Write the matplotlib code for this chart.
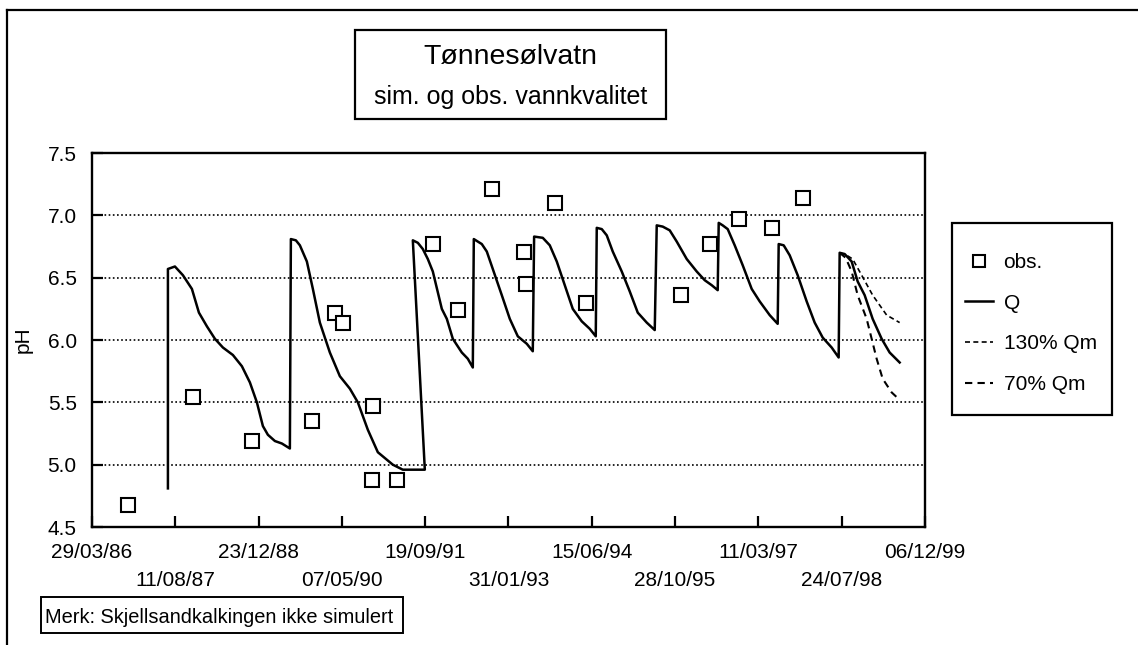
import numpy as np
import pandas as pd
import matplotlib
matplotlib.use("Agg")
import matplotlib.pyplot as plt
import matplotlib.dates as mdates
from matplotlib.lines import Line2D
from matplotlib.patches import Rectangle

plt.rcParams['font.family'] = ['Liberation Sans', 'DejaVu Sans']

# startdato for aksen; alle x-verdier er dager etter denne
start = pd.Timestamp('1986-03-29')

tick_labels = ['29/03/86', '11/08/87', '23/12/88', '07/05/90', '19/09/91', '31/01/93',
               '15/06/94', '28/10/95', '11/03/97', '24/07/98', '06/12/99']
y_ticks = [4.5, 5.0, 5.5, 6.0, 6.5, 7.0, 7.5]

# simulert pH, Q
q_days = [456, 456, 498, 546, 600, 642, 690, 738, 786, 846, 900, 948, 990, 1026, 1056, 1098, 1140, 1188,
          1194, 1224, 1248, 1290, 1326, 1368, 1428, 1488, 1548, 1596, 1656, 1716, 1770, 1806, 1866, 1998,
          1926, 1956, 1986, 2016, 2046, 2100, 2130, 2166, 2220, 2256, 2286,
          2292, 2340, 2370, 2406, 2460, 2508, 2556, 2610, 2646,
          2654, 2706, 2748, 2790, 2838, 2886, 2940, 2988, 3024,
          3030, 3060, 3090, 3126, 3180, 3228, 3276, 3330, 3378,
          3390, 3426, 3468, 3510, 3570, 3630, 3678, 3720, 3756,
          3762, 3786, 3816, 3858, 3906, 3960, 4008, 4068, 4116,
          4122, 4152, 4188, 4236, 4290, 4338, 4386, 4440, 4482,
          4488, 4518, 4560, 4596, 4638, 4686, 4740, 4788, 4848]
q_ph = [4.81, 6.57, 6.59, 6.52, 6.41, 6.22, 6.11, 6.01, 5.94, 5.88, 5.79, 5.66, 5.50, 5.31, 5.24, 5.19, 5.17, 5.13,
        6.81, 6.80, 6.76, 6.63, 6.41, 6.14, 5.90, 5.71, 5.61, 5.50, 5.28, 5.10, 5.04, 5.00, 4.96, 4.96,
        6.80, 6.78, 6.73, 6.65, 6.55, 6.25, 6.17, 6.01, 5.90, 5.85, 5.78,
        6.81, 6.77, 6.71, 6.57, 6.36, 6.17, 6.03, 5.97, 5.91,
        6.83, 6.82, 6.76, 6.63, 6.44, 6.25, 6.15, 6.09, 6.03,
        6.90, 6.89, 6.84, 6.71, 6.55, 6.39, 6.22, 6.14, 6.08,
        6.92, 6.91, 6.88, 6.79, 6.65, 6.55, 6.48, 6.44, 6.40,
        6.94, 6.92, 6.89, 6.76, 6.60, 6.41, 6.31, 6.20, 6.13,
        6.77, 6.76, 6.68, 6.52, 6.31, 6.14, 6.02, 5.94, 5.86,
        6.70, 6.69, 6.63, 6.47, 6.36, 6.17, 6.01, 5.90, 5.82]

# scenarier
s130_days = [4488, 4530, 4566, 4620, 4686, 4770, 4848]
s130_ph = [6.70, 6.68, 6.65, 6.52, 6.36, 6.20, 6.14]
s70_days = [4488, 4524, 4560, 4596, 4650, 4680, 4710, 4746, 4800, 4848]
s70_ph = [6.70, 6.66, 6.55, 6.36, 6.17, 6.01, 5.85, 5.69, 5.58, 5.52]

# observasjoner
obs_days = [216, 606, 960, 1320, 1458, 1506, 1686, 1680, 1830, 2046, 2196,
            2400, 2592, 2604, 2778, 2964, 3534, 3708, 3882, 4080, 4266]
obs_ph = [4.68, 5.54, 5.19, 5.35, 6.22, 6.14, 5.47, 4.88, 4.88, 6.77, 6.24,
          7.21, 6.71, 6.45, 7.10, 6.30, 6.36, 6.77, 6.97, 6.90, 7.14]

x0 = mdates.date2num(start.to_pydatetime())


def to_x(days):
    return x0 + np.asarray(days, dtype=float)


tick_x = mdates.date2num(pd.to_datetime(tick_labels, format='%d/%m/%y').to_pydatetime())

fig = plt.figure(figsize=(11.38, 6.45), dpi=100)
ax = fig.add_axes([0.0808, 0.1829, 0.7320, 0.5798])

lq, = ax.plot(to_x(q_days), q_ph, color='black', lw=1.8)
l130, = ax.plot(to_x(s130_days), s130_ph, color='black', lw=1.2, dashes=(3, 2))
l70, = ax.plot(to_x(s70_days), s70_ph, color='black', lw=1.5, dashes=(3.5, 2.5))
lobs, = ax.plot(to_x(obs_days), obs_ph, ls='none', marker='s', ms=9.5,
                mfc='white', mec='black', mew=1.5)

ax.set_xlim(tick_x[0], tick_x[-1])
ax.set_ylim(4.5, 7.5)
ax.set_yticks(y_ticks, [f'{v:.1f}' for v in y_ticks])
ax.set_xticks(tick_x[::2], tick_labels[::2])
ax.set_xticks(tick_x[1::2], tick_labels[1::2], minor=True)
ax.tick_params(axis='both', which='both', direction='in', length=8, width=1.6,
               labelsize=15, colors='black')
ax.tick_params(axis='x', which='major', pad=11.5)
ax.tick_params(axis='x', which='minor', pad=32)
ax.tick_params(axis='y', pad=11)
ax.grid(axis='y', which='major', color='black', ls=(0, (1, 1.5)), lw=1.2)
for sp in ax.spines.values():
    sp.set_linewidth(1.7)

ax.set_ylabel('pH', fontsize=15)
ax.yaxis.set_label_coords(-0.071, 0.5)

# tittelboks
fig.add_artist(Rectangle((0.312, 0.8155), 0.2733, 0.138, transform=fig.transFigure,
                         fill=False, ec='black', lw=1.6))
fig.text(0.4486, 0.9116, 'Tønnesølvatn', ha='center', va='center', fontsize=20.5)
fig.text(0.4486, 0.8496, 'sim. og obs. vannkvalitet', ha='center', va='center', fontsize=18)

# forklaring
fig.add_artist(Rectangle((0.8366, 0.3566), 0.1406, 0.2977, transform=fig.transFigure,
                         fill=False, ec='black', lw=1.6))
fig.legend([lobs, lq, l130, l70], ['obs.', 'Q', '130% Qm', '70% Qm'],
           loc='upper left', bbox_to_anchor=(0.848, 0.6078), frameon=False,
           fontsize=15, borderpad=0, borderaxespad=0, labelspacing=1.04,
           handlelength=1.35, handletextpad=0.5, markerscale=0.85)

# merknad
fig.add_artist(Rectangle((0.036, 0.0186), 0.318, 0.0558, transform=fig.transFigure,
                         fill=False, ec='black', lw=1.4))
fig.text(0.0395, 0.0434, 'Merk: Skjellsandkalkingen ikke simulert', ha='left', va='center',
         fontsize=14.4)

# ramme rundt figuren (topp og venstre)
fig.add_artist(Line2D([0.00615, 1.0], [0.9845, 0.9845], transform=fig.transFigure,
                      color='black', lw=1.6))
fig.add_artist(Line2D([0.00615, 0.00615], [0.0, 0.9845], transform=fig.transFigure,
                      color='black', lw=1.6))

fig.savefig('out.png', dpi=100)
